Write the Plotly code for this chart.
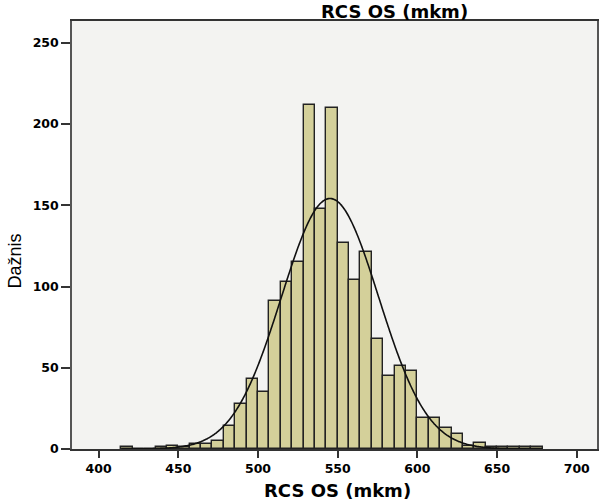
import numpy as np
import plotly.graph_objects as go

# ---- data ----
BIN_START = 414.2857
BIN_WIDTH = 50 / 7
COUNTS = [1, 0, 0, 1, 2, 1, 3, 3, 5, 14, 28, 43, 35, 91, 103, 115, 212, 148, 210,
          127, 104, 121, 68, 45, 51, 48, 19, 19, 13, 9, 2, 4, 1, 1, 1, 1, 1]
FIT_MEAN = 545.2
FIT_SD = 30.5
DATA_MIN = 414.5
DATA_MAX = 678.5
X_TICKS = [400, 450, 500, 550, 600, 650, 700]
Y_TICKS = [0, 50, 100, 150, 200, 250]
TITLE = "RCS OS (mkm)"
X_TITLE = "RCS OS (mkm)"
Y_TITLE = "Dažnis"

centers = [BIN_START + BIN_WIDTH * (i + 0.5) for i in range(len(COUNTS))]
n_total = sum(COUNTS)

xs = np.linspace(DATA_MIN, DATA_MAX, 400)
ys = n_total * BIN_WIDTH / (FIT_SD * np.sqrt(2 * np.pi)) * np.exp(-0.5 * ((xs - FIT_MEAN) / FIT_SD) ** 2)

fig = go.Figure()
fig.add_trace(go.Bar(
    x=centers, y=COUNTS, width=BIN_WIDTH,
    marker=dict(color="#D4D09A", line=dict(color="#222222", width=1.4)),
    showlegend=False, hoverinfo="x+y",
))
fig.add_trace(go.Scatter(
    x=xs, y=ys, mode="lines",
    line=dict(color="#111111", width=1.6, shape="spline"),
    showlegend=False, hoverinfo="skip",
))

tickfont = dict(family="DejaVu Sans", size=12.5, weight="bold", color="black")

fig.update_layout(
    width=599, height=501,
    margin=dict(l=72, r=0, t=21, b=52),
    paper_bgcolor="white",
    plot_bgcolor="#F3F3F1",
    bargap=0,
    xaxis=dict(
        range=[383.3, 712.7], tickvals=X_TICKS, ticks="outside", ticklen=7,
        tickwidth=1.5, tickcolor="#333", showgrid=False, zeroline=False,
        showline=True, linecolor="#333", linewidth=1.5, mirror=True,
        tickfont=tickfont,
    ),
    yaxis=dict(
        range=[0, 263.4], tickvals=Y_TICKS, ticks="outside", ticklen=9,
        tickwidth=1.5, tickcolor="#333", showgrid=False, zeroline=False,
        showline=True, linecolor="#555", linewidth=1.5, mirror=True,
        tickfont=tickfont,
    ),
    annotations=[
        dict(text=TITLE, xref="paper", yref="paper", x=0.614, y=1.022,
             xanchor="center", yanchor="middle", showarrow=False,
             font=dict(family="DejaVu Sans", size=18, weight="bold", color="black")),
        dict(text=X_TITLE, xref="paper", yref="paper", x=0.505, y=-0.096,
             xanchor="center", yanchor="middle", showarrow=False,
             font=dict(family="DejaVu Sans", size=18, weight="bold", color="black")),
        dict(text=Y_TITLE, xref="paper", yref="paper", x=-0.108, y=0.439,
             xanchor="center", yanchor="middle", showarrow=False, textangle=-90,
             font=dict(family="Liberation Sans", size=18, color="black")),
    ],
)

fig.write_html("out.html")
